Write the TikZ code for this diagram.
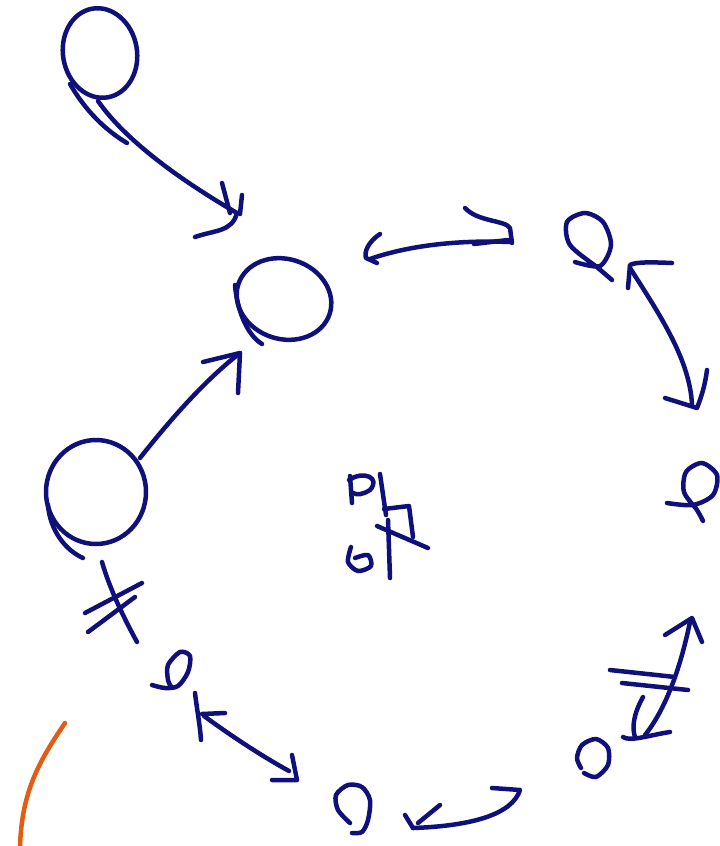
\documentclass[tikz,border=0pt]{standalone}
\usetikzlibrary{shapes.geometric}
\definecolor{ink}{RGB}{16,16,122}
\definecolor{orng}{RGB}{226,92,18}
\begin{document}
\begin{tikzpicture}[x=1pt,y=-1pt,
  pen/.style={draw=ink,line width=4.5pt,line cap=round,line join=round},
  bubble/.style={pen,ellipse,inner sep=0pt,outer sep=0pt},
  orangepen/.style={draw=orng,line width=4.5pt,line cap=round}]
\useasboundingbox (0,0) rectangle (720,846);

% big loops (nodes)
\node[bubble,minimum width=74pt,minimum height=90pt,rotate=10] (top) at (100,53) {};
\node[bubble,minimum width=96pt,minimum height=80pt,rotate=-18] (mid) at (284,299) {};
\node[bubble,minimum width=100pt,minimum height=104pt] (left) at (96,492) {};

% tails of big loops
\draw[pen] (70,84) .. controls (85,110) and (105,130) .. (127,143);
\draw[pen] (235,285) .. controls (237,310) and (247,335) .. (262,344);
\draw[pen] (48,505) .. controls (50,530) and (65,550) .. (83,558);

% small loops
\draw[pen] plot[smooth] coordinates {(575,262) (600,266) (611,245) (603,222) (585,213) (567,222) (570,245) (598,268) (612,280)};
\draw[pen] plot[smooth] coordinates {(667,503) (693,505) (713,495) (717,475) (702,463) (686,472) (684,492) (697,510) (703,521)};
\draw[pen] plot[smooth] coordinates {(584,773) (596,777) (608,765) (608,748) (596,739) (582,745) (577,758) (581,768)};
\draw[pen] plot[smooth] coordinates {(350,823) (338,810) (336,795) (348,785) (362,787) (370,800) (368,820) (362,832) (352,833)};
\draw[pen] plot[smooth] coordinates {(152,685) (165,688) (178,686) (188,672) (190,656) (180,652) (168,665) (168,680) (172,688)};

% arrow top -> mid
\coordinate (a1) at (237,213);
\draw[pen] (98,101) .. controls (125,140) and (180,180) .. (a1);
\draw[pen] (222,183) -- (230,213);
\draw[pen] (242,195) -- (240,214);
\draw[pen] (195,237) .. controls (215,230) and (232,232) .. (a1);

% arrow left -> mid
\coordinate (a2) at (240,353);
\draw[pen] (140,458) .. controls (170,420) and (205,380) .. (a2);
\draw[pen] (203,362) -- (a2) -- (238,393);

% top double arrow
\draw[pen] (380,234) .. controls (368,242) and (364,252) .. (366,258) -- (377,263);
\draw[pen] (370,259) .. controls (410,245) and (460,240) .. (510,242);
\draw[pen] (465,208) .. controls (478,222) and (505,220) .. (510,228) -- (512,243);
\draw[pen] (474,244) -- (508,240);

% right double arrow
\draw[pen] (672,263) .. controls (650,262) and (635,262) .. (630,265) -- (628,288);
\draw[pen] (630,268) .. controls (660,315) and (690,360) .. (692,405);
\draw[pen] (665,398) -- (697,408) .. controls (702,395) and (705,385) .. (707,370);

% bottom right double arrow with marks
\draw[pen] (665,635) -- (692,618) -- (702,642);
\draw[pen] (690,622) .. controls (680,670) and (665,710) .. (645,735);
\draw[pen] (643,697) .. controls (633,715) and (632,728) .. (635,737);
\draw[pen] (623,737) .. controls (630,742) and (650,735) .. (670,732);
\draw[pen] (610,670) -- (675,677);
\draw[pen] (622,683) -- (688,690);

% bottom arrow
\draw[pen] (492,788) -- (520,790) .. controls (512,815) and (470,826) .. (413,828);
\draw[pen] (405,815) -- (413,828);
\draw[pen] (440,805) -- (418,823);

% lower left double arrow
\draw[pen] (195,693) .. controls (197,710) and (200,725) .. (201,740);
\draw[pen] (202,714) -- (225,713);
\draw[pen] (204,716) .. controls (230,735) and (260,755) .. (289,771);
\draw[pen] (272,780) -- (297,780) -- (292,755);

% crossed marks under left loop
\draw[pen] (102,562) .. controls (110,590) and (125,620) .. (137,642);
\draw[pen] (85,613) -- (142,583);
\draw[pen] (88,632) -- (135,597);

% centre symbol
\draw[pen] (350,476) -- (352,503);
\draw[pen] (349,480) .. controls (364,470) and (381,478) .. (370,490) .. controls (362,495) and (357,495) .. (353,493);
\draw[pen] (380,474) -- (386,515);
\draw[pen] (384,509) -- (409,506) -- (413,537);
\draw[pen] (377,526) -- (428,548);
\draw[pen] (388,520) -- (390,578);
\draw[pen] plot[smooth] coordinates {(351,547) (348,562) (358,571) (371,566) (368,555) (355,558)};

% orange stroke
\draw[orangepen] (65,723) .. controls (40,760) and (22,790) .. (20,846);
\end{tikzpicture}
\end{document}
